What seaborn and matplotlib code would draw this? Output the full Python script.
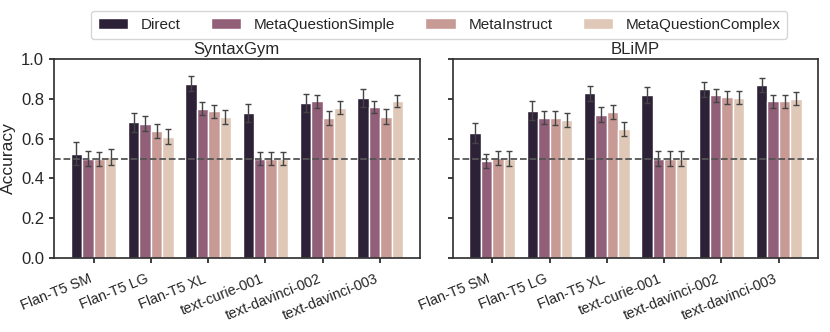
import numpy as np
import pandas as pd
import matplotlib
matplotlib.use("Agg")
import matplotlib.pyplot as plt
import seaborn as sns

models = ["Flan-T5 SM", "Flan-T5 LG", "Flan-T5 XL", "text-curie-001", "text-davinci-002", "text-davinci-003"]
methods = ["Direct", "MetaQuestionSimple", "MetaInstruct", "MetaQuestionComplex"]
colors = ["#2d2137", "#925f79", "#c79a96", "#dfc8b8"]

# SyntaxGym accuracies (per method, across models)
syn_direct = [0.525, 0.682, 0.876, 0.729, 0.778, 0.803]
syn_mqs    = [0.498, 0.676, 0.751, 0.500, 0.788, 0.759]
syn_mi     = [0.498, 0.637, 0.737, 0.500, 0.704, 0.711]
syn_mqc    = [0.507, 0.609, 0.709, 0.500, 0.756, 0.789]
syn_err_direct = [0.058, 0.048, 0.037, 0.046, 0.044, 0.046]
syn_err_mqs    = [0.038, 0.037, 0.033, 0.035, 0.033, 0.032]
syn_err_mi     = [0.037, 0.036, 0.034, 0.035, 0.037, 0.036]
syn_err_mqc    = [0.040, 0.037, 0.036, 0.035, 0.033, 0.032]

# BLiMP accuracies
bl_direct = [0.627, 0.741, 0.828, 0.818, 0.848, 0.870]
bl_mqs    = [0.488, 0.706, 0.721, 0.498, 0.819, 0.788]
bl_mi     = [0.502, 0.704, 0.736, 0.498, 0.809, 0.788]
bl_mqc    = [0.498, 0.692, 0.649, 0.498, 0.806, 0.801]
bl_err_direct = [0.051, 0.048, 0.038, 0.040, 0.037, 0.037]
bl_err_mqs    = [0.037, 0.033, 0.036, 0.038, 0.033, 0.033]
bl_err_mi     = [0.037, 0.036, 0.035, 0.038, 0.033, 0.033]
bl_err_mqc    = [0.038, 0.035, 0.035, 0.038, 0.033, 0.033]

def make_df(vals, errs):
    rows = []
    for m, v, e in zip(methods, vals, errs):
        for mod, vv, ee in zip(models, v, e):
            rows.append({"model": mod, "method": m, "acc": vv, "err": ee})
    return pd.DataFrame(rows)

df_syn = make_df([syn_direct, syn_mqs, syn_mi, syn_mqc],
                 [syn_err_direct, syn_err_mqs, syn_err_mi, syn_err_mqc])
df_bl = make_df([bl_direct, bl_mqs, bl_mi, bl_mqc],
                [bl_err_direct, bl_err_mqs, bl_err_mi, bl_err_mqc])

sns.set_theme(style="ticks")
plt.rcParams["font.family"] = ["Liberation Sans", "DejaVu Sans"]
plt.rcParams["xtick.major.size"] = 3.5
plt.rcParams["ytick.major.size"] = 3.5

fig, axes = plt.subplots(1, 2, figsize=(8.3, 3.32), dpi=100, sharey=True)
fig.subplots_adjust(left=0.065, right=0.986, top=0.822, bottom=0.223, wspace=0.09)

for ax, df, title in zip(axes, [df_syn, df_bl], ["SyntaxGym", "BLiMP"]):
    sns.barplot(data=df, x="model", y="acc", hue="method", order=models,
                hue_order=methods, palette=colors, ax=ax, errorbar=None,
                edgecolor="white", linewidth=1.0, saturation=1, legend=(ax is axes[0]))
    for ci, meth in enumerate(methods):
        cont = ax.containers[ci]
        sub = df[df.method == meth].set_index("model").loc[models]
        xs = [p.get_x() + p.get_width() / 2 for p in cont.patches]
        ax.errorbar(xs, sub["acc"].values, yerr=sub["err"].values, fmt="none",
                    ecolor="#444444", elinewidth=1.0, capsize=2, capthick=1.0, zorder=5)
    ax.axhline(0.5, color="#555555", linestyle="--", linewidth=1.3, zorder=6)
    ax.set_title(title, fontsize=12, pad=4)
    ax.set_xlabel("")
    ax.set_ylim(0, 1.0)
    ax.set_yticks([0.0, 0.2, 0.4, 0.6, 0.8, 1.0])
    for s in ["top", "right", "left", "bottom"]:
        ax.spines[s].set_visible(True)
        ax.spines[s].set_color("#333333")
    ax.tick_params(axis="x", labelsize=10.4, rotation=22, pad=6.5)
    ax.tick_params(axis="y", labelsize=12)
    for lab in ax.get_xticklabels():
        lab.set_ha("right")

axes[0].set_ylabel("Accuracy", fontsize=12.5, labelpad=4)
axes[1].set_ylabel("")

handles, labels = axes[0].get_legend_handles_labels()
axes[0].get_legend().remove()
fig.legend(handles, labels, loc="upper center", ncol=4, bbox_to_anchor=(0.529, 0.99),
           fontsize=11, frameon=True, handlelength=2.0, handletextpad=0.8,
           columnspacing=2.0, borderpad=0.45)

fig.savefig("out.png", dpi=100)
